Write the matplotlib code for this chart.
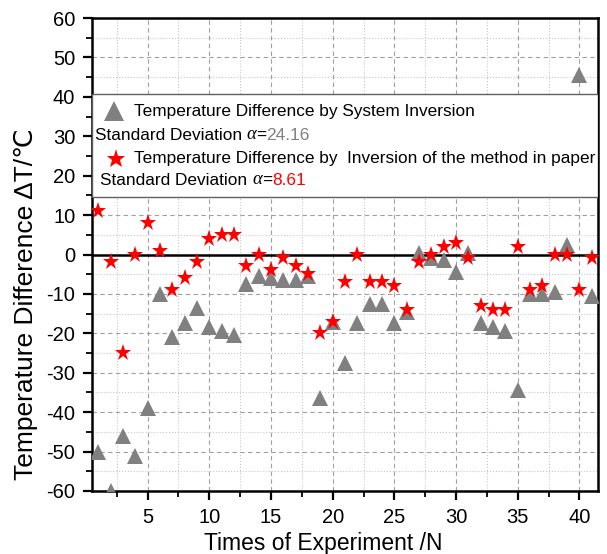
#!/usr/bin/env python3
"""Temperature difference per experiment: system inversion vs. method in paper."""

import matplotlib
matplotlib.use('Agg')
import matplotlib.pyplot as plt
from matplotlib.patches import Rectangle
from matplotlib.ticker import MultipleLocator

plt.rcParams['font.family'] = ['Liberation Sans', 'DejaVu Sans']
plt.rcParams['axes.unicode_minus'] = False

# ---------------------------------------------------------------------------
# Data
# ---------------------------------------------------------------------------
experiments = list(range(1, 42))

dT_system = [
    -50, -60, -46, -51, -39, -10, -21, -17.5, -13.5, -18.5,
    -19.5, -20.5, -7.5, -5.5, -6, -6.5, -6.5, -5.5, -36.5, -17,
    -27.5, -17.5, -12.5, -12.5, -17.5, -14.5, 0.5, -1, -1.5, -4.5,
    0.5, -17.5, -18.5, -19.5, -34.5, -10, -10, -9.5, 2.5, 45.5,
    -10.5,
]

dT_paper = [
    11, -2, -25, 0, 8, 1, -9, -6, -2, 4,
    5, 5, -3, 0, -4, -1, -3, -5, -20, -17,
    -7, 0, -7, -7, -8, -14, -2, 0, 2, 3,
    -1, -13, -14, -14, 2, -9, -8, 0, 0, -9,
    -1,
]

std_system = 24.16
std_paper = 8.61

# ---------------------------------------------------------------------------
# Plot
# ---------------------------------------------------------------------------
W, H = 607, 554
fig = plt.figure(figsize=(W / 100, H / 100), dpi=100)
ax = fig.add_axes([92 / W, 1 - 491 / H, 506 / W, 473 / H])

gray = '#808080'
red = '#ff0000'

ax.plot(experiments, dT_system, linestyle='none', marker='^', markersize=12,
        color=gray, markeredgewidth=0, zorder=3)
ax.plot(experiments, dT_paper, linestyle='none', marker='*', markersize=12.5,
        color=red, markeredgewidth=0, zorder=4)

ax.axhline(0, color='black', linewidth=1.8, zorder=2)

ax.set_xlim(0.5, 41.5)
ax.set_ylim(-60, 60)
ax.xaxis.set_major_locator(MultipleLocator(5))
ax.xaxis.set_minor_locator(MultipleLocator(2.5))
ax.yaxis.set_major_locator(MultipleLocator(10))
ax.yaxis.set_minor_locator(MultipleLocator(5))

ax.grid(True, which='major', linestyle=(0, (4, 3)), color='#a0a0a0', linewidth=0.8, zorder=0)
ax.grid(True, which='minor', linestyle=':', color='#c8c8c8', linewidth=0.8, zorder=0)
ax.set_axisbelow(True)

for s in ax.spines.values():
    s.set_linewidth(1.8)
ax.tick_params(which='major', direction='out', length=6.5, width=1.6, labelsize=14.5,
               pad=5.5, top=False, right=False)
ax.tick_params(which='minor', direction='out', length=4, width=1.3,
               top=False, right=False)

ax.set_xlabel('Times of Experiment /N', fontsize=16.5)
ax.xaxis.label.set_verticalalignment('baseline')
ax.xaxis.set_label_coords(323.5 / W, 1 - 550 / H, transform=fig.transFigure)

ax.set_ylabel('Temperature Difference ΔT/℃', fontsize=19)
ax.yaxis.label.set_verticalalignment('baseline')
ax.yaxis.set_label_coords(33 / W, 1 - 304 / H, transform=fig.transFigure)

# legend-like white box across the axes
box = Rectangle((0, 14.7), 1, 26.0, transform=ax.get_yaxis_transform(),
                facecolor='white', edgecolor='#606060', linewidth=1.0, zorder=5)
ax.add_patch(box)

fs = 12.4


def std_line(x, y, value, color):
    t = ax.text(x, y, 'Standard Deviation ', fontsize=fs, va='center', ha='left', zorder=6)
    a = ax.annotate('α', xy=(1, 0), xycoords=t, va='bottom', ha='left', fontsize=fs + 1,
                    family='Liberation Serif', style='italic', zorder=6)
    e = ax.annotate('=', xy=(1, 0), xycoords=a, va='bottom', ha='left', fontsize=fs, zorder=6)
    ax.annotate(f'{value:.2f}', xy=(1, 0), xycoords=e, va='bottom', ha='left',
                fontsize=fs, color=color, zorder=6)


ax.plot([2.27], [36.3], marker='^', markersize=14, color=gray, markeredgewidth=0,
        linestyle='none', zorder=6)
ax.text(3.9, 36.2, 'Temperature Difference by System Inversion', fontsize=fs,
        va='center', ha='left', zorder=6, clip_on=True)
std_line(0.73, 30.1, std_system, gray)

ax.plot([2.43], [24.3], marker='*', markersize=14, color=red, markeredgewidth=0,
        linestyle='none', zorder=6)
ax.text(3.9, 24.3, 'Temperature Difference by  Inversion of the method in paper',
        fontsize=fs, va='center', ha='left', zorder=6, clip_on=True)
std_line(1.16, 18.9, std_paper, red)

fig.savefig('out.png', dpi=100, facecolor='white')
plt.close(fig)
